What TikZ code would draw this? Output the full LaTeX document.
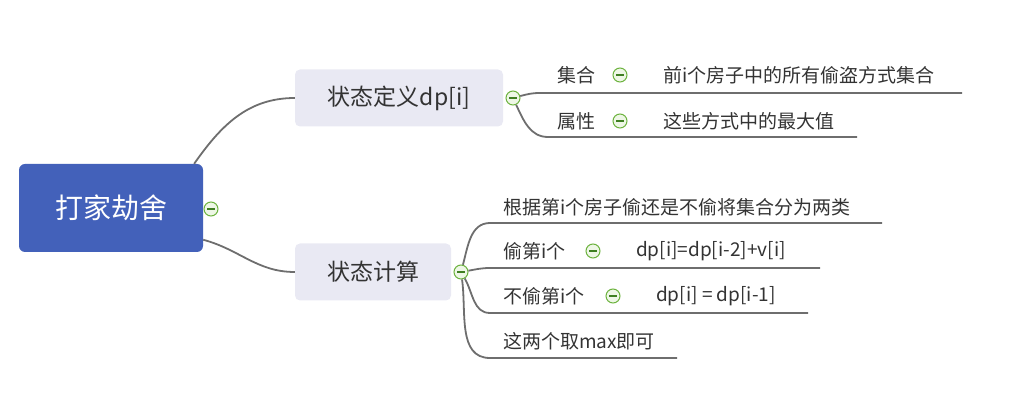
\documentclass[tikz,border=0pt]{standalone}
\usepackage{fontspec}
\newfontfamily\cjk{Noto Sans CJK SC}
\usetikzlibrary{positioning}
\definecolor{rootBlue}{HTML}{4361BA}
\definecolor{topicGray}{HTML}{E9E9F3}
\definecolor{textGray}{HTML}{333333}
\definecolor{lineGray}{HTML}{6E6E6E}
\definecolor{foldGreen}{HTML}{6DB33F}
\definecolor{foldFill}{HTML}{EEF7E6}
\definecolor{foldDark}{HTML}{3F7F22}

\begin{document}
\begin{tikzpicture}
[x=1pt,y=1pt,%
  rootBox/.style={fill=rootBlue,rounded corners=6pt,minimum width=184pt,minimum height=88pt,text=white,font=\cjk\fontsize{28}{31}\selectfont},%
  topicBox/.style={fill=topicGray,rounded corners=5pt,minimum height=57pt,text=textGray,font=\cjk\fontsize{23}{26}\selectfont},%
  leafText/.style={anchor=west,inner sep=0pt,text=textGray,font=\cjk\fontsize{19}{22}\selectfont},%
  foldMark/.style={shape=circle,draw=foldGreen,fill=foldFill,line width=1pt,minimum size=14pt,inner sep=0pt,
    path picture={\draw[foldDark,line width=1.2pt] ([xshift=-4pt]path picture bounding box.center) -- ([xshift=4pt]path picture bounding box.center);}},%
  branch/.style={draw=lineGray,line width=1.8pt}]
\useasboundingbox (0,0) rectangle (1010,-403);
%% main topics
\node[rootBox] (root) at (111,-208) {打家劫舍};
\node[foldMark] (rootFold) at (211,-209) {};
\node[topicBox,minimum width=208pt] (define) at (399,-98) {状态定义dp[i]};
\node[foldMark] (defineFold) at (513,-98) {};
\node[topicBox,minimum width=156pt] (compute) at (373,-272) {状态计算};
\node[foldMark] (computeFold) at (461,-272) {};
\draw[branch] (root.28) to[out=55,in=180] (define.west);
\draw[branch] (root.-19) to[out=-15,in=180] (compute.west);
%% definition leaves
\foreach \nodename/\y/\txt/\desc in {set/75/集合/前i个房子中的所有偷盗方式集合, attr/121/属性/这些方式中的最大值}
{
  \node[leafText] (\nodename) at (557,-\y) {\txt};
  \node[foldMark] (\nodename Fold) at (620,-\y) {};
  \node[leafText] (\nodename Desc) at (663,-\y) {\desc};
}
\foreach \nodename/\y/\xstart/\xend in {set/93/540/962, attr/137/548/857}
{
  \coordinate (\nodename Start) at (\xstart,-\y);
  \coordinate (\nodename End) at (\xend,-\y);
}
\foreach \nodename/\outangle in {set/15, attr/-65}
{
  \draw[branch] (defineFold.\outangle) to[out=\outangle,in=180] (\nodename Start) -- (\nodename End);
}
%% computation leaves
\foreach \nodename/\y/\txt in {split/207/根据第i个房子偷还是不偷将集合分为两类, steal/251/偷第i个, skip/296/不偷第i个, pick/341/这两个取max即可}
{
  \node[leafText] (\nodename) at (503,-\y) {\txt};
}
\node[foldMark] (stealFold) at (593,-251) {};
\node[leafText] (stealDesc) at (636,-251) {dp[i]=dp[i-2]+v[i]};
\node[foldMark] (skipFold) at (613,-296) {};
\node[leafText] (skipDesc) at (656,-296) {dp[i] = dp[i-1]};
\foreach \nodename/\y/\xend in {split/223/882, steal/268/820, skip/313/808, pick/358/677}
{
  \coordinate (\nodename Start) at (490,-\y);
  \coordinate (\nodename End) at (\xend,-\y);
}
\foreach \nodename/\outangle in {split/75, steal/10, skip/-60, pick/-82}
{
  \draw[branch] (computeFold.\outangle) to[out=\outangle,in=180] (\nodename Start) -- (\nodename End);
}
\end{tikzpicture}
\end{document}
